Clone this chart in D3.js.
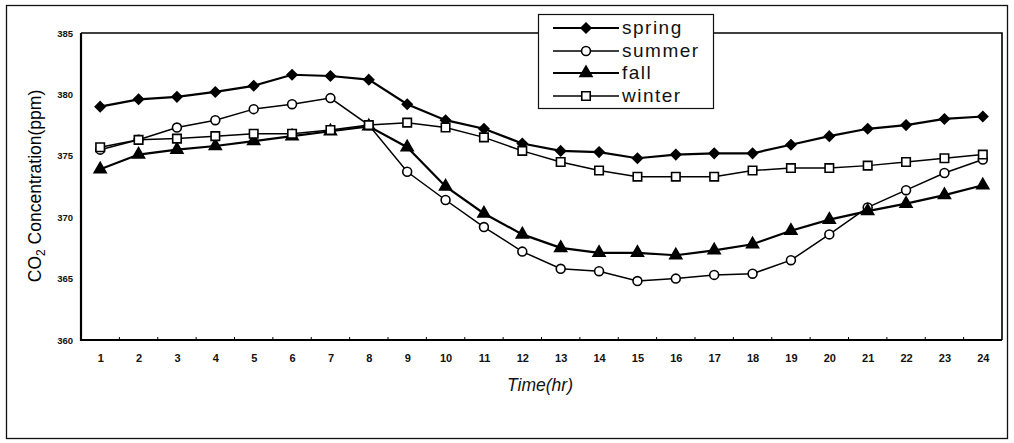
<!DOCTYPE html>
<html><head><meta charset="utf-8">
<script src="https://cdn.jsdelivr.net/npm/d3@7"></script>
<style>body{margin:0;background:#fff}svg{display:block}</style>
</head><body>
<svg id="c" width="1014" height="443"></svg>
<script>
const hours = d3.range(1, 25);
const yTicks = [360, 365, 370, 375, 380, 385];
const spring = [379.0,379.6,379.8,380.2,380.7,381.6,381.5,381.2,379.2,377.9,377.2,376.0,375.4,375.3,374.8,375.1,375.2,375.2,375.9,376.6,377.2,377.5,378.0,378.2];
const summer = [375.5,376.3,377.3,377.9,378.8,379.2,379.7,377.5,373.7,371.4,369.2,367.2,365.8,365.6,364.8,365.0,365.3,365.4,366.5,368.6,370.8,372.2,373.6,374.7];
const fall   = [373.9,375.1,375.5,375.8,376.2,376.6,377.0,377.4,375.7,372.5,370.3,368.6,367.5,367.1,367.1,366.9,367.3,367.8,368.9,369.8,370.5,371.1,371.8,372.6];
const winter = [375.7,376.3,376.4,376.6,376.8,376.8,377.1,377.5,377.7,377.3,376.5,375.4,374.5,373.8,373.3,373.3,373.3,373.8,374.0,374.0,374.2,374.5,374.8,375.1];
const seriesNames = ["spring","summer","fall","winter"];

const series = [
  {name:"spring", values:spring, sym:d3.symbolDiamond2, size:62, fill:"#000", sw:2.2},
  {name:"summer", values:summer, sym:d3.symbolCircle, size:62, fill:"#fff", sw:1.5},
  {name:"fall",   values:fall,   sym:d3.symbolTriangle, size:62, fill:"#000", sw:2.2},
  {name:"winter", values:winter, sym:d3.symbolSquare, size:72, fill:"#fff", sw:1.5}
];

const svg = d3.select("#c");
const L=81, T=33, R=1002, B=340;
const x = d3.scalePoint().domain(hours).range([L, R]).padding(0.5);
const y = d3.scaleLinear().domain([360,385]).range([B, T]);

// outer frame
svg.append("rect").attr("x",6.5).attr("y",5.5).attr("width",1001).attr("height",433)
  .attr("fill","none").attr("stroke","#111").attr("stroke-width",1.3);

// plot border
svg.append("path").attr("d",`M${L},${T}H${R}V${B}`).attr("fill","none").attr("stroke","#000").attr("stroke-width",1.6);
svg.append("path").attr("d",`M${L},${T}V${B}H${R}`).attr("fill","none").attr("stroke","#000").attr("stroke-width",2.2);

// y axis
const ya = svg.append("g").attr("transform",`translate(${L},0)`)
  .call(d3.axisLeft(y).tickValues(yTicks).tickSize(0).tickPadding(8).tickFormat(d3.format("d")));
ya.select(".domain").remove();
ya.selectAll("text").attr("font-family","Liberation Sans Narrow, Arial Narrow, Liberation Sans, sans-serif")
  .attr("font-size",9.5).attr("font-weight","bold").attr("fill","#111");

// x axis
const xa = svg.append("g").attr("transform",`translate(0,${B})`)
  .call(d3.axisBottom(x).tickSize(0).tickPadding(14));
xa.select(".domain").remove();
xa.selectAll("text").attr("font-family","Liberation Sans, Arial, sans-serif")
  .attr("font-size",11).attr("font-weight","bold").attr("fill","#111");
// small boundary ticks
const step = x.step();
svg.append("g").selectAll("line").data(hours.slice(1)).join("line")
  .attr("x1",d=>x(d)-step/2).attr("x2",d=>x(d)-step/2).attr("y1",B).attr("y2",B-3)
  .attr("stroke","#000").attr("stroke-width",1);

// lines
const line = d3.line().x((d,i)=>x(hours[i])).y(d=>y(d));
series.forEach(s=>{
  svg.append("path").datum(s.values).attr("d",line).attr("fill","none")
    .attr("stroke","#000").attr("stroke-width",s.sw);
});
series.forEach(s=>{
  svg.append("g").selectAll("path").data(s.values).join("path")
    .attr("transform",(d,i)=>`translate(${x(hours[i])},${y(d)})`)
    .attr("d",d3.symbol().type(s.sym).size(s.size))
    .attr("fill",s.fill).attr("stroke","#000").attr("stroke-width",1.6);
});

// legend
const lg = svg.append("g");
lg.append("rect").attr("x",538.5).attr("y",14.5).attr("width",175).attr("height",94)
  .attr("fill","#fff").attr("stroke","#111").attr("stroke-width",1.2);
const lgY = [28, 51, 73, 96];
series.forEach((s,i)=>{
  lg.append("line").attr("x1",553).attr("x2",619).attr("y1",lgY[i]).attr("y2",lgY[i])
    .attr("stroke","#000").attr("stroke-width",s.sw);
  lg.append("path").attr("transform",`translate(586,${lgY[i]})`)
    .attr("d",d3.symbol().type(s.sym).size(s.size)).attr("fill",s.fill)
    .attr("stroke","#000").attr("stroke-width",1.6);
  lg.append("text").attr("x",622).attr("y",lgY[i]+6).text(seriesNames[i])
    .attr("font-family","Liberation Sans, Arial, sans-serif").attr("font-size",19)
    .attr("letter-spacing",1.5).attr("fill","#111");
});

// axis titles
svg.append("text").attr("transform","translate(41,186) rotate(-90)").attr("text-anchor","middle")
  .attr("font-family","Liberation Sans, Arial, sans-serif").attr("font-size",17.5).attr("fill","#000")
  .html('CO<tspan dy="4" font-size="12">2</tspan><tspan dy="-4"> Concentration(ppm)</tspan>');
svg.append("text").attr("x",540).attr("y",391).attr("text-anchor","middle")
  .attr("font-family","Liberation Sans, Arial, sans-serif").attr("font-size",17.5)
  .attr("font-style","italic").attr("fill","#111").text("Time(hr)");
</script>
</body></html>
